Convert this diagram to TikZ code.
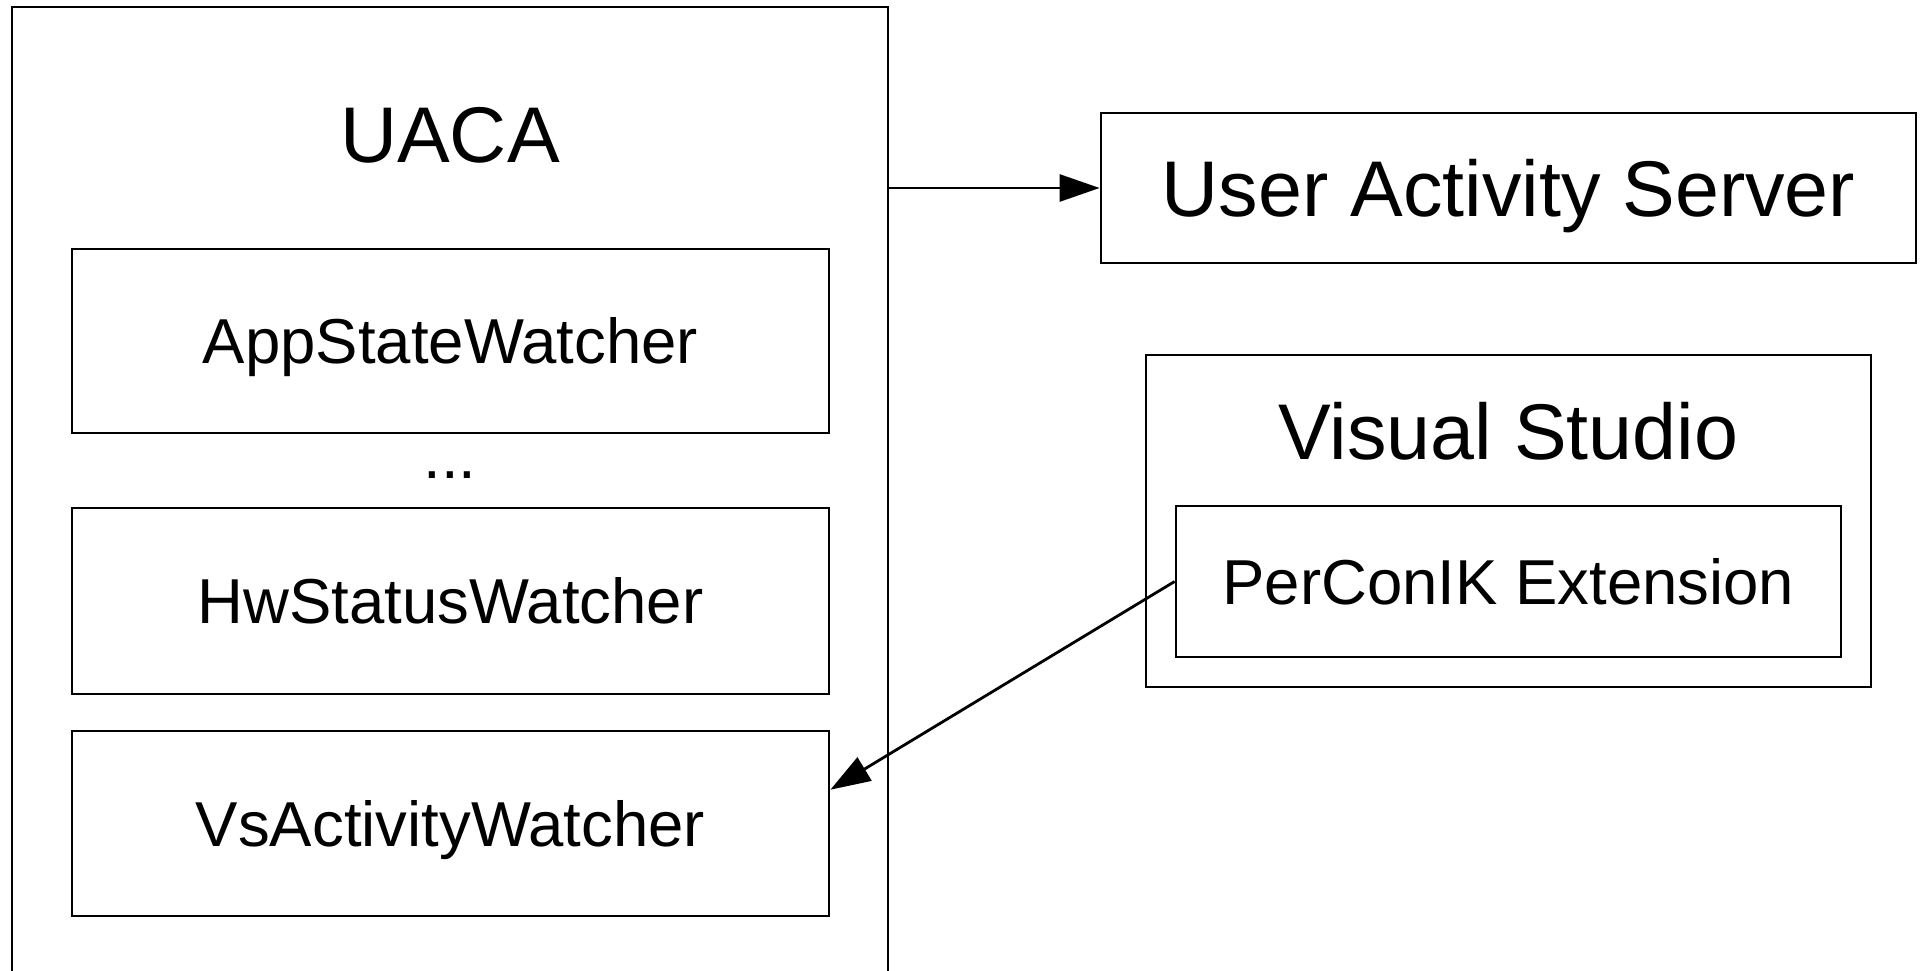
\documentclass[tikz,border=0pt]{standalone}
\usepackage{fontspec}
\setmainfont{Liberation Sans}
\usetikzlibrary{arrows.meta,calc}
\begin{document}
\begin{tikzpicture}[x=1pt,y=-1pt,
  box/.style={draw=black,line width=2.8pt,inner sep=0pt,align=center},
  bigtxt/.style={font=\fontsize{79}{90}\selectfont,text height=56.6pt,text depth=0pt},
  smalltxt/.style={font=\fontsize{63.5}{72}\selectfont,text height=45.5pt,text depth=0pt},
  title/.style={inner sep=0pt,anchor=base},
  conn/.style={line width=2.8pt,-{Triangle[length=40pt,width=27pt]}}]
\useasboundingbox (0,0) rectangle (1925,971);
\clip (0,0) rectangle (1925,971);
\fill[white] (0,0) rectangle (1925,971);
% UACA container
\node[box,minimum width=876pt,minimum height=1193pt] (uaca) at (450,603.5) {};
\node[title,font=\fontsize{79}{90}\selectfont] (uacatitle) at (450,162) {UACA};
\node[box,smalltxt,minimum width=757pt,minimum height=184pt] (app) at (450.5,341) {AppStateWatcher};
\node[title,font=\fontsize{63.5}{72}\selectfont] (dots) at (450,478) {...};
\node[box,smalltxt,minimum width=757pt,minimum height=186pt] (hw) at (450.5,601) {HwStatusWatcher};
\node[box,smalltxt,minimum width=757pt,minimum height=185pt] (vsw) at (450.5,823.5) {VsActivityWatcher};
% right side
\node[box,bigtxt,minimum width=815pt,minimum height=150pt] (uas) at (1508.5,188) {User Activity Server};
\node[box,minimum width=725pt,minimum height=332pt] (vs) at (1508.5,521) {};
\node[title,font=\fontsize{79}{90}\selectfont] (vstitle) at (1508.5,459) {Visual Studio};
\node[box,smalltxt,minimum width=665pt,minimum height=151pt] (ext) at (1508.5,581.5) {PerConIK Extension};
% connectors
\draw[conn] (uas.west -| uaca.east) -- (uas.west);
\draw[conn] (ext.west) -- ($(vsw.north east)!0.32!(vsw.south east)$);
\end{tikzpicture}
\end{document}
